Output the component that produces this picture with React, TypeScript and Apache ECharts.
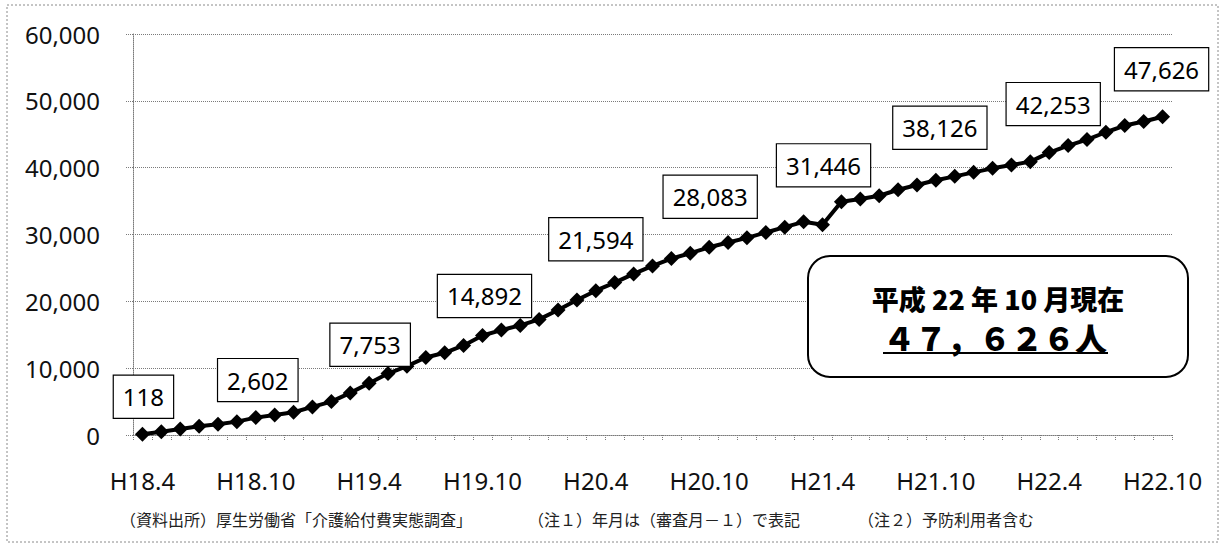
import React, { useEffect, useRef } from "react";
import * as echarts from "echarts";

// Monthly reporting periods (Heisei year.month), H18.4 – H22.10
const months: string[] = [
  "H18.4", "H18.5", "H18.6", "H18.7", "H18.8", "H18.9", "H18.10", "H18.11", "H18.12", "H19.1", "H19.2", "H19.3",
  "H19.4", "H19.5", "H19.6", "H19.7", "H19.8", "H19.9", "H19.10", "H19.11", "H19.12", "H20.1", "H20.2", "H20.3",
  "H20.4", "H20.5", "H20.6", "H20.7", "H20.8", "H20.9", "H20.10", "H20.11", "H20.12", "H21.1", "H21.2", "H21.3",
  "H21.4", "H21.5", "H21.6", "H21.7", "H21.8", "H21.9", "H21.10", "H21.11", "H21.12", "H22.1", "H22.2", "H22.3",
  "H22.4", "H22.5", "H22.6", "H22.7", "H22.8", "H22.9", "H22.10",
];

// Number of users per month
const users: number[] = [
  118, 500, 900, 1300, 1600, 2000, 2602, 3000, 3400, 4200, 5000, 6300,
  7753, 9200, 10300, 11600, 12300, 13400, 14892, 15700, 16400, 17300, 18700, 20200,
  21594, 22800, 24100, 25300, 26400, 27200, 28083, 28800, 29500, 30300, 31100, 31900,
  31446, 34900, 35300, 35800, 36700, 37400, 38126, 38700, 39300, 39900, 40400, 40900,
  42253, 43300, 44200, 45300, 46300, 46900, 47626,
];

// Months whose values carry a boxed label
const labelledMonths: string[] = [
  "H18.4", "H18.10", "H19.4", "H19.10", "H20.4", "H20.10", "H21.4", "H21.10", "H22.4", "H22.10",
];

// Label placement above each labelled point: [distance, x offset]
const labelPlacement: [number, number][] = [
  [9, 1], [9, 2], [10, 1], [11, 2], [23, 0], [22, 1], [31, 1], [24, 4], [20, 4], [19, -1],
];

const yTicks: number[] = [0, 10000, 20000, 30000, 40000, 50000, 60000];

const headline = "平成 22 年 10 月現在";
const headlineCount = "４７，６２６人";
const sourceNote = "（資料出所）厚生労働省「介護給付費実態調査」";
const note1 = "（注１）年月は（審査月－１）で表記";
const note2 = "（注２）予防利用者含む";

const fmt = (v: number) => v.toLocaleString("en-US");

export default function App() {
  const ref = useRef<HTMLDivElement>(null);

  useEffect(() => {
    if (!ref.current) return;
    const chart = echarts.init(ref.current, null, { renderer: "svg" });

    const seriesData = users.map((v, i) => {
      const li = labelledMonths.indexOf(months[i]);
      if (li < 0) return { value: v };
      const [dist, dx] = labelPlacement[li];
      return { value: v, label: { show: true, distance: dist, offset: [dx, 0] } };
    });

    const gray = "#7a7a7a";

    chart.setOption({
      animation: false,
      backgroundColor: "#ffffff",
      textStyle: { fontFamily: "'Noto Sans', sans-serif" },
      grid: { left: 133, top: 34, width: 1039, height: 401, containLabel: false },
      xAxis: {
        type: "category",
        data: months,
        boundaryGap: true,
        axisLine: { show: true, lineStyle: { color: gray, width: 1, type: [1, 1] } },
        axisTick: { show: true, interval: 0, length: 6, lineStyle: { color: gray, width: 1, type: [1, 1] } },
        axisLabel: {
          interval: 5,
          margin: 33,
          color: "#111",
          fontSize: 24,
          fontFamily: "'Noto Sans', sans-serif",
        },
        splitLine: { show: false },
      },
      yAxis: {
        type: "value",
        min: yTicks[0],
        max: yTicks[yTicks.length - 1],
        interval: yTicks[1] - yTicks[0],
        axisLine: { show: true, lineStyle: { color: gray, width: 1, type: [1, 1] } },
        axisTick: { show: true, length: 8, lineStyle: { color: gray, width: 1, type: [1, 1] } },
        axisLabel: {
          margin: 33,
          color: "#111",
          fontSize: 24,
          fontFamily: "'Noto Sans', sans-serif",
          formatter: (v: number) => fmt(v),
        },
        splitLine: { show: true, lineStyle: { color: gray, width: 1, type: [1, 1] } },
      },
      series: [
        {
          type: "line",
          data: seriesData,
          symbol: "diamond",
          symbolSize: 15,
          showAllSymbol: true,
          itemStyle: { color: "#000" },
          lineStyle: { color: "#000", width: 4 },
          label: {
            show: false,
            position: "top",
            formatter: (p: any) => fmt(p.value as number),
            color: "#000",
            fontSize: 24,
            fontFamily: "'Noto Sans', sans-serif",
            lineHeight: 26,
            backgroundColor: "#fff",
            borderColor: "#000",
            borderWidth: 1.2,
            padding: [8, 9, 8, 9],
          },
          z: 3,
        },
      ],
      graphic: [
        {
          type: "rect",
          shape: { x: 7, y: 5, width: 1211, height: 537 },
          style: { fill: "none", stroke: "#8a8a8a", lineWidth: 1, lineDash: [2, 2] },
          silent: true,
          z: 0,
        },
        {
          type: "rect",
          shape: { x: 808, y: 256, width: 380, height: 121, r: 22 },
          style: { fill: "#fff", stroke: "#000", lineWidth: 2 },
          z: 10,
        },
        {
          type: "text",
          x: 998,
          y: 298,
          style: {
            text: headline,
            fill: "#000",
            font: "900 27px 'Noto Sans CJK JP', sans-serif",
            textAlign: "center",
            textVerticalAlign: "middle",
          },
          z: 11,
        },
        {
          type: "text",
          x: 995,
          y: 337,
          style: {
            text: headlineCount,
            fill: "#000",
            font: "900 32px 'Noto Sans CJK JP', sans-serif",
            textAlign: "center",
            textVerticalAlign: "middle",
          },
          z: 11,
        },
        {
          type: "line",
          shape: { x1: 883, y1: 353, x2: 1108, y2: 353 },
          style: { stroke: "#000", lineWidth: 2 },
          z: 11,
        },
        {
          type: "text",
          x: 120,
          y: 519,
          style: {
            text: sourceNote,
            fill: "#222",
            font: "16px 'Noto Sans CJK JP', sans-serif",
            textVerticalAlign: "middle",
          },
        },
        {
          type: "text",
          x: 528,
          y: 519,
          style: {
            text: note1,
            fill: "#222",
            font: "16px 'Noto Sans CJK JP', sans-serif",
            textVerticalAlign: "middle",
          },
        },
        {
          type: "text",
          x: 858,
          y: 519,
          style: {
            text: note2,
            fill: "#222",
            font: "16px 'Noto Sans CJK JP', sans-serif",
            textVerticalAlign: "middle",
          },
        },
      ],
    });

    return () => chart.dispose();
  }, []);

  return (
    <div
      ref={ref}
      style={{ position: "absolute", left: 0, top: 0, width: 1221, height: 546, background: "#fff" }}
    />
  );
}
